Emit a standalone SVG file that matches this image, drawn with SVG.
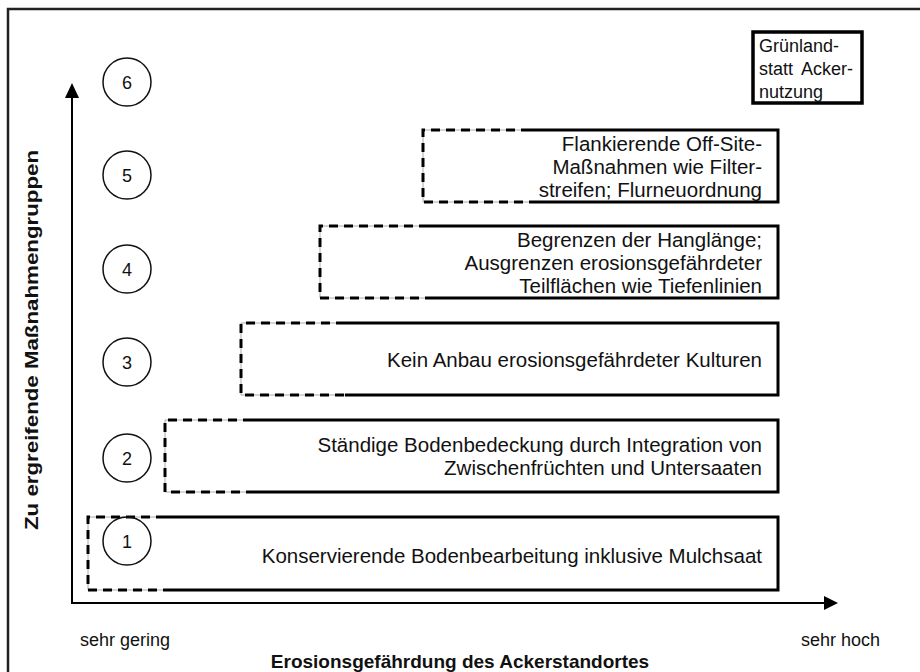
<svg xmlns="http://www.w3.org/2000/svg" width="920" height="672" viewBox="0 0 920 672">
<style>
text{font-family:"Liberation Sans",Arial,sans-serif;fill:#111}
.t{font-size:20.5px}
.s{font-size:18px}
.r{text-anchor:end}
.c{text-anchor:middle}
.b{font-weight:bold;font-size:19px}
.solid{fill:none;stroke:#000;stroke-width:3}
.dash{fill:none;stroke:#000;stroke-width:3;stroke-dasharray:9 6}
.under{fill:none;stroke:#aaa;stroke-width:1}
.circ{fill:none;stroke:#111;stroke-width:1.5}
.ax{stroke:#000;stroke-width:2}
</style>
<rect x="0" y="0" width="920" height="672" fill="#fff"/>
<rect x="8" y="9" width="940" height="700" fill="none" stroke="#222" stroke-width="2.5"/>
<g id="axes">
<line class="ax" x1="72" y1="604" x2="72" y2="96"/>
<polygon points="72,83 65,98 79,98" fill="#000"/>
<line class="ax" x1="71" y1="603" x2="826" y2="603"/>
<polygon points="838,603 824,596 824,610" fill="#000"/>
</g>
<g id="box1">
<path class="under" d="M165,517 H88 V590 H165"/>
<path class="dash" d="M165,517 H88 V590 H165"/>
<path class="solid" d="M165,517 H778 V590 H165"/>
<text class="t r" x="762" y="563">Konservierende Bodenbearbeitung inklusive Mulchsaat</text>
</g>
<g id="box2">
<path class="under" d="M252,420 H165 V492 H252"/>
<path class="dash" d="M252,420 H165 V492 H252"/>
<path class="solid" d="M252,420 H778 V492 H252"/>
<text class="t r" x="762" y="452">Ständige Bodenbedeckung durch Integration von</text>
<text class="t r" x="762" y="475">Zwischenfrüchten und Untersaaten</text>
</g>
<g id="box3">
<path class="under" d="M345,323 H241 V395 H345"/>
<path class="dash" d="M345,323 H241 V395 H345"/>
<path class="solid" d="M345,323 H778 V395 H345"/>
<text class="t r" x="762" y="367">Kein Anbau erosionsgefährdeter Kulturen</text>
</g>
<g id="box4">
<path class="under" d="M428,226 H320 V298 H428"/>
<path class="dash" d="M428,226 H320 V298 H428"/>
<path class="solid" d="M428,226 H778 V298 H428"/>
<text class="t r" x="762" y="247">Begrenzen der Hanglänge;</text>
<text class="t r" x="762" y="270">Ausgrenzen erosionsgefährdeter</text>
<text class="t r" x="762" y="293">Teilflächen wie Tiefenlinien</text>
</g>
<g id="box5">
<path class="under" d="M530,130 H423 V202 H530"/>
<path class="dash" d="M530,130 H423 V202 H530"/>
<path class="solid" d="M530,130 H778 V202 H530"/>
<text class="t r" x="762" y="151">Flankierende Off-Site-</text>
<text class="t r" x="762" y="174">Maßnahmen wie Filter-</text>
<text class="t r" x="762" y="197">streifen; Flurneuordnung</text>
</g>
<g id="box6">
<rect x="753" y="32" width="109" height="71" fill="#fff" stroke="#000" stroke-width="3.5"/>
<text class="s" x="759" y="52">Grünland-</text>
<text class="s" x="759" y="75" word-spacing="4">statt Acker-</text>
<text class="s" x="759" y="98">nutzung</text>
</g>
<g id="c1"><circle class="circ" cx="127" cy="541" r="24"/><text class="s c" x="127" y="548">1</text></g>
<g id="c2"><circle class="circ" cx="127" cy="458" r="24"/><text class="s c" x="127" y="465">2</text></g>
<g id="c3"><circle class="circ" cx="127" cy="362" r="24"/><text class="s c" x="127" y="369">3</text></g>
<g id="c4"><circle class="circ" cx="127" cy="269" r="24"/><text class="s c" x="127" y="276">4</text></g>
<g id="c5"><circle class="circ" cx="127" cy="175" r="24"/><text class="s c" x="127" y="182">5</text></g>
<g id="c6"><circle class="circ" cx="127" cy="82" r="24"/><text class="s c" x="127" y="89">6</text></g>
<g id="labels">
<text class="s" x="80" y="646">sehr gering</text>
<text class="s r" x="880" y="646">sehr hoch</text>
<text class="b c" x="460" y="668">Erosionsgefährdung des Ackerstandortes</text>
<text class="b c" transform="translate(38,340) rotate(-90)" textLength="380" lengthAdjust="spacingAndGlyphs">Zu ergreifende Maßnahmengruppen</text>
</g>
</svg>
